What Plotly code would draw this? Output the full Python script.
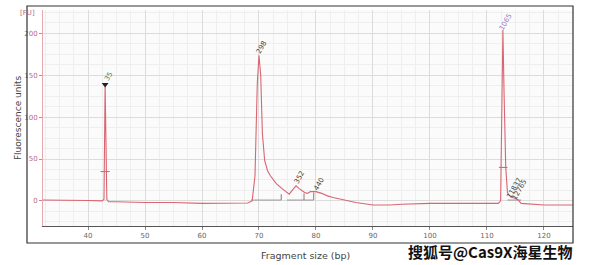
import plotly.graph_objects as go

# electropherogram trace (fragment size vs fluorescence units)
size_bp = [32, 35, 40, 42.5, 42.8, 43.0, 43.3, 43.6, 45, 50, 55, 60, 65, 68, 68.8, 69.3, 69.7,
           70.0, 70.3, 70.6, 71.0, 71.5, 72, 72.5, 73, 74, 75, 75.3, 76.0, 76.5, 77, 78, 78.5,
           79, 80, 81, 82, 83, 85, 87, 90, 93, 95, 100, 105, 110, 112, 112.4, 112.6, 112.8,
           113.0, 113.3, 113.6, 114, 114.5, 115, 115.5, 116, 120, 125]
fluor = [1, 1, 0.5, 0, 2, 139, 2, -1, -1, -2, -2, -3, -3, -2.5, 0, 30, 140,
         174, 150, 80, 48, 36, 30, 26, 21, 15, 10, 8, 14, 18, 15, 10, 9,
         11, 11, 9, 6, 4, 1, -2, -5, -5, -4, -3, -3, -3, -3, 0, 100, 204,
         130, 40, 10, 6, 4, 3, 1, -3, -5, -5]

# peak labels
peak_x = [43.0, 70.0, 76.5, 80.0, 112.8, 114.3, 115.2]
peak_y = [139, 174, 18, 11, 204, 6, 3]
peak_text = ["35", "298", "352", "440", "1065", "11837", "12765"]
peak_color = ["#3a8a6a", "#444444", "#444444", "#444444", "#9a7ac0", "#444444", "#444444"]

# integration baselines (gray segments) and half-height markers
base_x = [68.6, 73.9, None, 74.9, 77.9, None, 77.9, 79.6, None, 113.6, 116.0]
base_y = [1, 1, None, 1, 1, None, 1, 1, None, 1, 1]
tick_x = [73.9, 73.9, None, 77.9, 77.9, None, 79.6, 79.6, None, 42.2, 43.8, None, 112.1, 113.6]
tick_y = [1, 8, None, 1, 9, None, 1, 10, None, 35, 35, None, 40, 40]

x_ticks = [40, 50, 60, 70, 80, 90, 100, 110, 120]
y_ticks = [0, 50, 100, 150, 200]

fig = go.Figure()
fig.add_trace(go.Scatter(x=base_x, y=base_y, mode="lines",
                         line=dict(color="#9a9a9a", width=1), hoverinfo="skip"))
fig.add_trace(go.Scatter(x=tick_x, y=tick_y, mode="lines",
                         line=dict(color="#a07070", width=1), hoverinfo="skip"))
fig.add_trace(go.Scatter(x=size_bp, y=fluor, mode="lines",
                         line=dict(color="#d86672", width=1.1), hoverinfo="skip"))
fig.add_trace(go.Scatter(x=[peak_x[0]], y=[peak_y[0]], mode="markers",
                         marker=dict(symbol="triangle-down", size=6, color="#222222"),
                         hoverinfo="skip"))

for px, py, t, c in zip(peak_x, peak_y, peak_text, peak_color):
    fig.add_annotation(x=px, y=py, xref="x", yref="y", text=t, showarrow=False,
                       textangle=-60, font=dict(family="DejaVu Sans", size=7, color=c),
                       yshift=8, xshift=3)

fig.add_annotation(x=-0.012, y=0.985, xref="paper", yref="paper", text="[FU]",
                   showarrow=False, xanchor="right", yanchor="middle",
                   font=dict(family="DejaVu Sans", size=7, color="#c06878"))
fig.add_annotation(x=-0.047, y=0.5, xref="paper", yref="paper", text="Fluorescence units",
                   showarrow=False, textangle=-90, xanchor="center", yanchor="middle",
                   font=dict(family="DejaVu Sans", size=9, color="#444444"))
fig.add_annotation(x=0.495, y=-0.135, xref="paper", yref="paper", text="Fragment size (bp)",
                   showarrow=False, xanchor="center", yanchor="middle",
                   font=dict(family="DejaVu Sans", size=9.5, color="#444444"))
fig.add_annotation(x=1.004, y=-0.12, xref="paper", yref="paper", text="搜狐号@Cas9X海星生物",
                   showarrow=False, xanchor="right", yanchor="middle",
                   font=dict(family="Noto Sans CJK SC", size=15, color="#111111",
                             weight="bold", shadow="1px 1px 0 #fff, -1px -1px 0 #fff, 1px -1px 0 #fff, -1px 1px 0 #fff"))

fig.add_shape(type="rect", xref="paper", yref="paper", x0=-0.0302, x1=1.0, y0=-0.0787, y1=1.0185,
              line=dict(color="#333333", width=1.2), fillcolor="rgba(0,0,0,0)", layer="above")

fig.update_xaxes(range=[32.1, 125.1], tickvals=x_ticks, showline=True, linecolor="#555555",
                 linewidth=1, ticks="outside", ticklen=3, tickcolor="#888888",
                 tickfont=dict(family="DejaVu Sans", size=7, color="#666666"),
                 showgrid=True, gridcolor="#dcdcdc", gridwidth=1, zeroline=False,
                 minor=dict(dtick=2.5, showgrid=True, gridcolor="#efefef", gridwidth=1))
fig.update_yaxes(range=[-30, 228], tickvals=y_ticks, showline=True, linecolor="#e8a8b0",
                 linewidth=1, ticks="outside", ticklen=3, tickcolor="#d08090",
                 tickfont=dict(family="DejaVu Sans", size=7, color="#c06878"),
                 showgrid=True, gridcolor="#dcdcdc", gridwidth=1, zeroline=False,
                 minor=dict(dtick=12.5, showgrid=True, gridcolor="#efefef", gridwidth=1))

fig.update_layout(width=593, height=265, margin=dict(l=43, r=20, t=10, b=39),
                  paper_bgcolor="#ffffff", plot_bgcolor="#fbfbfb", showlegend=False)

fig.write_html("out.html")
